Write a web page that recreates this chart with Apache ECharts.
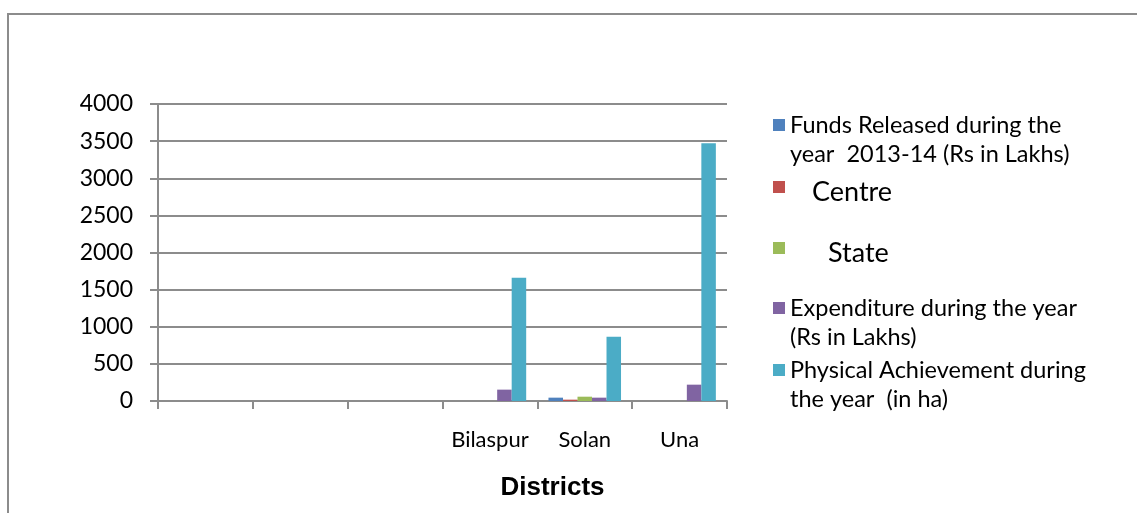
<!DOCTYPE html>
<html>
<head>
<meta charset="utf-8">
<script src="https://cdn.jsdelivr.net/npm/echarts@6/dist/echarts.min.js"></script>
<style>
  html, body { margin: 0; padding: 0; background: #fff; }
  #chart { width: 1137px; height: 513px; }
</style>
</head>
<body>
<div id="chart"></div>
<script>
// districts (first three slots are blank in the source sheet)
var categories = ['', ' ', '  ', 'Bilaspur', 'Solan', 'Una']
var yTicks = [0, 500, 1000, 1500, 2000, 2500, 3000, 3500, 4000]

var fundsReleased = [null, null, null, null, 45, null]
var centre = [null, null, null, null, 18, null]
var state = [null, null, null, null, 58, null]
var expenditure = [null, null, null, 153, 45, 220]
var physical = [null, null, null, 1660, 867, 3470]

var names = [
  'Funds Released during the\nyear  2013-14 (Rs in Lakhs)',
  'Centre',
  'State',
  'Expenditure during the year\n(Rs in Lakhs)',
  'Physical Achievement during\nthe year  (in ha)'
]
var colors = ['#4f81bd', '#c0504d', '#9bbb59', '#8064a2', '#4bacc6']

var font = 'Lato'
var legendBase = {
  orient: 'vertical',
  left: 773,
  padding: 0,
  icon: 'rect',
  itemWidth: 12,
  itemHeight: 12,
  selectedMode: false,
  textStyle: { fontFamily: font, fontSize: 23.5, lineHeight: 29, color: '#000' }
}

function twoLine (top, name) {
  return Object.assign({}, legendBase, {
    top: top,
    data: [name],
    // blank first line keeps the marker level with the first text line
    formatter: function (n) { return '\n' + n }
  })
}
function bigOne (top, name, indent) {
  return Object.assign({}, legendBase, {
    top: top,
    data: [name],
    formatter: function (n) { return '{c|' + n + '}' },
    textStyle: {
      fontFamily: font,
      color: '#000',
      rich: { c: { fontFamily: font, fontSize: 27, color: '#000', padding: [11, 0, 0, indent] } }
    }
  })
}

function bar (i, data) {
  return {
    name: names[i],
    type: 'bar',
    data: data,
    itemStyle: { color: colors[i] },
    barGap: '0%',
    barCategoryGap: '23.5%'
  }
}

var chart = echarts.init(document.getElementById('chart'))
chart.setOption({
  animation: false,
  color: colors,
  graphic: [{
    type: 'rect',
    shape: { x: 8, y: 14, width: 1140, height: 520 },
    style: { fill: 'none', stroke: '#8c8c8c', lineWidth: 2 },
    silent: true
  }],
  legend: [
    twoLine(81.5, names[0]),
    bigOne(179, names[1], 22),
    bigOne(240, names[2], 38),
    twoLine(264.5, names[3]),
    twoLine(326.5, names[4])
  ],
  grid: { left: 158, right: 410, top: 104, bottom: 112 },
  xAxis: {
    type: 'category',
    data: categories,
    name: 'Districts',
    nameLocation: 'middle',
    nameGap: 74,
    nameTextStyle: {
      fontFamily: 'Liberation Sans', fontWeight: 'bold', fontSize: 26, color: '#000',
      padding: [0, 0, 0, 220]
    },
    axisLine: { lineStyle: { color: '#8c8c8c', width: 2 } },
    axisTick: { show: true, length: 8, alignWithLabel: false, lineStyle: { color: '#8c8c8c', width: 2 } },
    axisLabel: { fontFamily: font, fontSize: 22, color: '#000', margin: 28, interval: 0 }
  },
  yAxis: {
    type: 'value',
    min: yTicks[0],
    max: yTicks[yTicks.length - 1],
    interval: yTicks[1] - yTicks[0],
    axisLine: { show: true, lineStyle: { color: '#8c8c8c', width: 2 } },
    axisTick: { show: true, length: 8, lineStyle: { color: '#8c8c8c', width: 2 } },
    splitLine: { lineStyle: { color: '#8c8c8c', width: 2 } },
    axisLabel: {
      fontFamily: font, fontSize: 23, color: '#000', margin: 25,
      formatter: function (v) { return String(v) }
    }
  },
  series: [
    bar(0, fundsReleased),
    bar(1, centre),
    bar(2, state),
    bar(3, expenditure),
    bar(4, physical)
  ]
})
</script>
</body>
</html>
